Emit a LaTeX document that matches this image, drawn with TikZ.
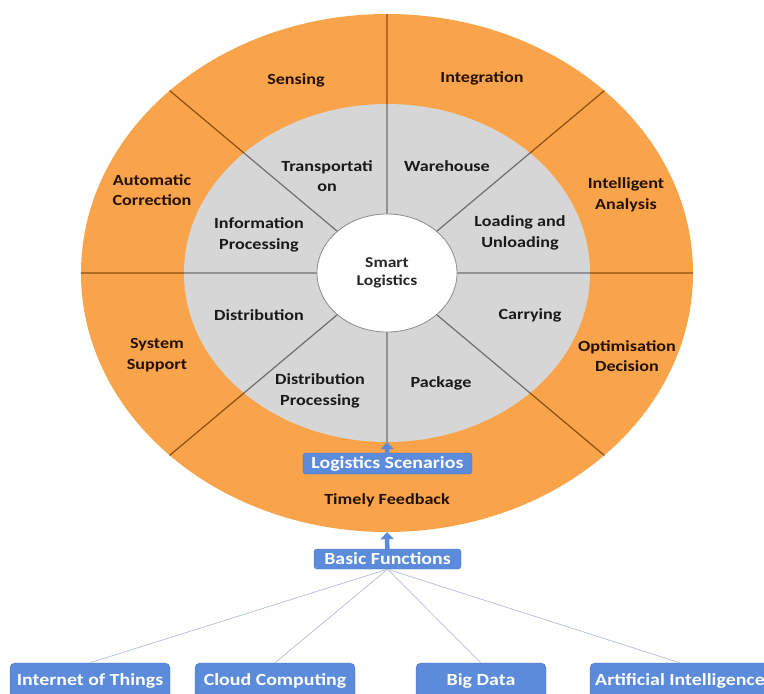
\documentclass[tikz,border=0pt]{standalone}
\usepackage{fontspec}
\setmainfont{Carlito}[FakeStretch=1.17]
\usepackage{xcolor}
\usetikzlibrary{shapes.geometric,arrows.meta,positioning}

\definecolor{ringorange}{HTML}{F9A44A}
\definecolor{coregray}{HTML}{D6D6D6}
\definecolor{rimbrown}{HTML}{8C4E12}
\definecolor{spokegray}{HTML}{6E6E6E}
\definecolor{boxblue}{HTML}{5B8BDA}
\definecolor{boxedge}{HTML}{4673C4}
\definecolor{linkblue}{HTML}{B3BCDD}
\definecolor{ringtext}{HTML}{241000}

\begin{document}
\begin{tikzpicture}[x=1pt, y=-1pt,
    ring/.style={ellipse, inner sep=0pt, draw=none},
    outlbl/.style={align=center, text=ringtext,
      font=\fontsize{15.5}{20.5}\selectfont\bfseries},
    inlbl/.style={align=center, text=black!90,
      font=\fontsize{15.5}{20.5}\selectfont\bfseries},
    fnbox/.style={rectangle, rounded corners=3pt, draw=boxedge, fill=boxblue,
      text=white, inner sep=0pt, font=\fontsize{17}{20}\selectfont\bfseries},
    spoke/.style={spokegray, line width=1.2pt},
    rim/.style={rimbrown, line width=1.2pt},
    arr/.style={-{Triangle[width=13pt,length=7pt]}, boxblue, line width=4.5pt},
    link/.style={linkblue, line width=0.7pt}
  ]
    \useasboundingbox (0,0) rectangle (764,694);

    % ── Rings ────────────────────────────────────────────────
    \node[ring, fill=ringorange, minimum width=612pt, minimum height=518pt]
      (outer) at (387,273) {};
    \node[ring, fill=coregray, minimum width=406pt, minimum height=338pt]
      (inner) at (387,273) {};
    \node[ring, fill=white, draw=black!45, line width=0.8pt,
      minimum width=140pt, minimum height=118pt, align=center,
      font=\fontsize{15}{18}\selectfont\bfseries, text=black!85]
      (hub) at (387,273) {Smart\\Logistics};

    % ── Spokes: hub to grey ring ─────────────────────────────
    \draw[spoke] (hub.north) -- (inner.north)
                 (hub.40)    -- (inner.40)
                 (hub.east)  -- (inner.east)
                 (hub.-40)   -- (inner.-40)
                 (hub.south) -- (inner.south)
                 (hub.-140)  -- (inner.-140)
                 (hub.west)  -- (inner.west)
                 (hub.140)   -- (inner.140);

    % ── Spokes: grey ring to orange rim ──────────────────────
    \draw[rim] (inner.north) -- (outer.north)
               (inner.40)    -- (outer.40)
               (inner.east)  -- (outer.east)
               (inner.-40)   -- (outer.-40)
               (inner.-140)  -- (outer.-140)
               (inner.west)  -- (outer.west)
               (inner.140)   -- (outer.140);

    % ── Basic functions (orange rim) ─────────────────────────
    \node[outlbl] (sensing) at (296,80)  {Sensing};
    \node[outlbl] (integr)  at (482,78)  {Integration};
    \node[outlbl] (autocor) at (152,190) {Automatic\\Correction};
    \node[outlbl] (intana)  at (626,195) {Intelligent\\Analysis};
    \node[outlbl] (syssup)  at (157,355) {System\\Support};
    \node[outlbl] (optdec)  at (627,356) {Optimisation\\Decision};
    \node[outlbl] (feedbk)  at (387,500) {Timely Feedback};

    % ── Logistics scenarios (grey ring) ──────────────────────
    \node[inlbl] (transp)  at (327,176) {Transportati\\on};
    \node[inlbl] (wareh)   at (447,166) {Warehouse};
    \node[inlbl] (infopr)  at (259,235) {Information\\Processing};
    \node[inlbl] (loadun)  at (520,233) {Loading and\\Unloading};
    \node[inlbl] (distr)   at (259,315) {Distribution};
    \node[inlbl] (carry)   at (530,315) {Carrying};
    \node[inlbl] (distpr)  at (320,391) {Distribution\\Processing};
    \node[inlbl] (packg)   at (441,383) {Package};

    % ── Blue boxes ───────────────────────────────────────────
    \node[fnbox, minimum width=169pt, minimum height=21pt] (scen)  at (387.5,463.5) {Logistics Scenarios};
    \node[fnbox, minimum width=147pt, minimum height=20pt] (basic) at (387.5,559)   {Basic Functions};
    \node[fnbox, rounded corners=5pt, minimum width=160pt, minimum height=36pt] (iot)   at (90,681)  {Internet of Things};
    \node[fnbox, rounded corners=5pt, minimum width=160pt, minimum height=36pt] (cloud) at (275,681) {Cloud Computing};
    \node[fnbox, rounded corners=5pt, minimum width=130pt, minimum height=36pt] (bigd)  at (481,681) {Big Data};
    \node[fnbox, rounded corners=5pt, minimum width=180pt, minimum height=36pt] (ai)    at (680,681) {Artificial Intelligence};

    % ── Arrows and links ─────────────────────────────────────
    \draw[arr] (scen)  -- (inner.south);
    \draw[arr] (basic) -- (outer.south);
    \draw[link] (basic.south) -- (iot.north);
    \draw[link] (basic.south) -- (cloud.north);
    \draw[link] (basic.south) -- (bigd.north);
    \draw[link] (basic.south) -- (ai.north);
  \end{tikzpicture}
\end{document}
